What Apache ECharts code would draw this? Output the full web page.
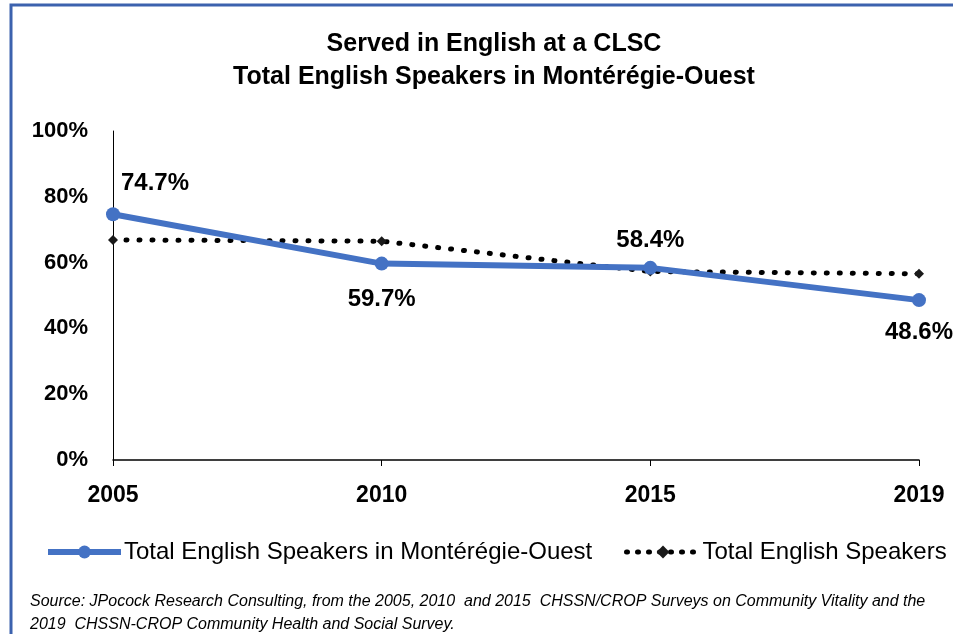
<!DOCTYPE html>
<html><head><meta charset="utf-8">
<script src="https://cdn.jsdelivr.net/npm/echarts@6/dist/echarts.min.js"></script>
<style>html,body{margin:0;padding:0;background:#fff}#c{width:953px;height:634px}</style>
</head><body><div id="c"></div>
<script>
var years = ['2005', '2010', '2015', '2019'];
var monteregie = [74.7, 59.7, 58.4, 48.6];
var totalEnglish = [66.9, 66.5, 57.3, 56.6];
var yTicks = [0, 20, 40, 60, 80, 100];
var titleLines = ['Served in English at a CLSC', 'Total English Speakers in Montérégie-Ouest'];
var seriesNames = ['Total English Speakers in Montérégie-Ouest', 'Total English Speakers'];
var sourceText = 'Source: JPocock Research Consulting, from the 2005, 2010  and 2015  CHSSN/CROP Surveys on Community Vitality and the\n2019  CHSSN-CROP Community Health and Social Survey.';

var FONT = "'Liberation Sans', Arial, sans-serif";
var labelPos = [
  {position: 'top', offset: [42, -7]},
  {position: 'bottom', offset: [0, 12]},
  {position: 'top', offset: [0, -3]},
  {position: 'bottom', offset: [0, 8]}
];
var legendText = {fontFamily: FONT, fontSize: 24, color: '#000', padding: [0, 0, 0, -2]};

var chart = echarts.init(document.getElementById('c'), null, {renderer: 'canvas'});
chart.setOption({
  animation: false,
  backgroundColor: '#fff',
  title: {
    text: titleLines.join('\n'),
    left: 489,
    textAlign: 'center',
    top: 23,
    textStyle: {fontFamily: FONT, fontSize: 25, fontWeight: 'bold', color: '#000', lineHeight: 33}
  },
  graphic: [
    {type: 'rect', shape: {x: 11, y: 5, width: 1000, height: 700}, style: {fill: null, stroke: '#3C62AE', lineWidth: 3}, z: 100},
    {type: 'text', left: 30, top: 590, style: {text: sourceText, font: 'italic 16px ' + FONT, fill: '#000', lineHeight: 23}}
  ],
  legend: [
    {
      left: 40, top: 535, itemWidth: 73, itemHeight: 16, textStyle: legendText,
      data: [{name: seriesNames[0], lineStyle: {width: 6}}]
    },
    {
      left: 619, top: 535, itemWidth: 73, itemHeight: 16, textStyle: legendText,
      data: [{name: seriesNames[1], lineStyle: {width: 5, type: [1, 10]}}]
    }
  ],
  grid: {left: 113, right: 34, top: 131, bottom: 174},
  xAxis: {
    type: 'category',
    data: years,
    boundaryGap: false,
    axisLine: {lineStyle: {color: '#000', width: 1.5}},
    axisTick: {show: true, alignWithLabel: true, length: 6, lineStyle: {color: '#000'}},
    axisLabel: {fontFamily: FONT, fontSize: 23, fontWeight: 'bold', color: '#000', margin: 24}
  },
  yAxis: {
    type: 'value',
    min: 0, max: 100, interval: 20,
    axisLine: {show: true, lineStyle: {color: '#000', width: 1}},
    axisTick: {show: false},
    splitLine: {show: false},
    axisLabel: {fontFamily: FONT, fontSize: 22, fontWeight: 'bold', color: '#000', margin: 25,
      formatter: function (v) { return yTicks.indexOf(v) >= 0 ? v + '%' : ''; }}
  },
  series: [
    {
      name: seriesNames[0],
      type: 'line',
      data: monteregie.map(function (v, i) {
        return {value: v, label: labelPos[i]};
      }),
      symbol: 'circle',
      symbolSize: 14,
      itemStyle: {color: '#4472C4'},
      lineStyle: {color: '#4472C4', width: 6},
      z: 3,
      label: {
        show: true,
        fontFamily: FONT, fontSize: 24, fontWeight: 'bold', color: '#000',
        formatter: function (p) { return p.value.toFixed(1) + '%'; }
      }
    },
    {
      name: seriesNames[1],
      type: 'line',
      data: totalEnglish,
      symbol: 'diamond',
      symbolSize: 10,
      itemStyle: {color: '#1a1a1a'},
      lineStyle: {color: '#000', width: 5, type: [1, 12], cap: 'round'},
      z: 2
    }
  ]
});
</script></body></html>
